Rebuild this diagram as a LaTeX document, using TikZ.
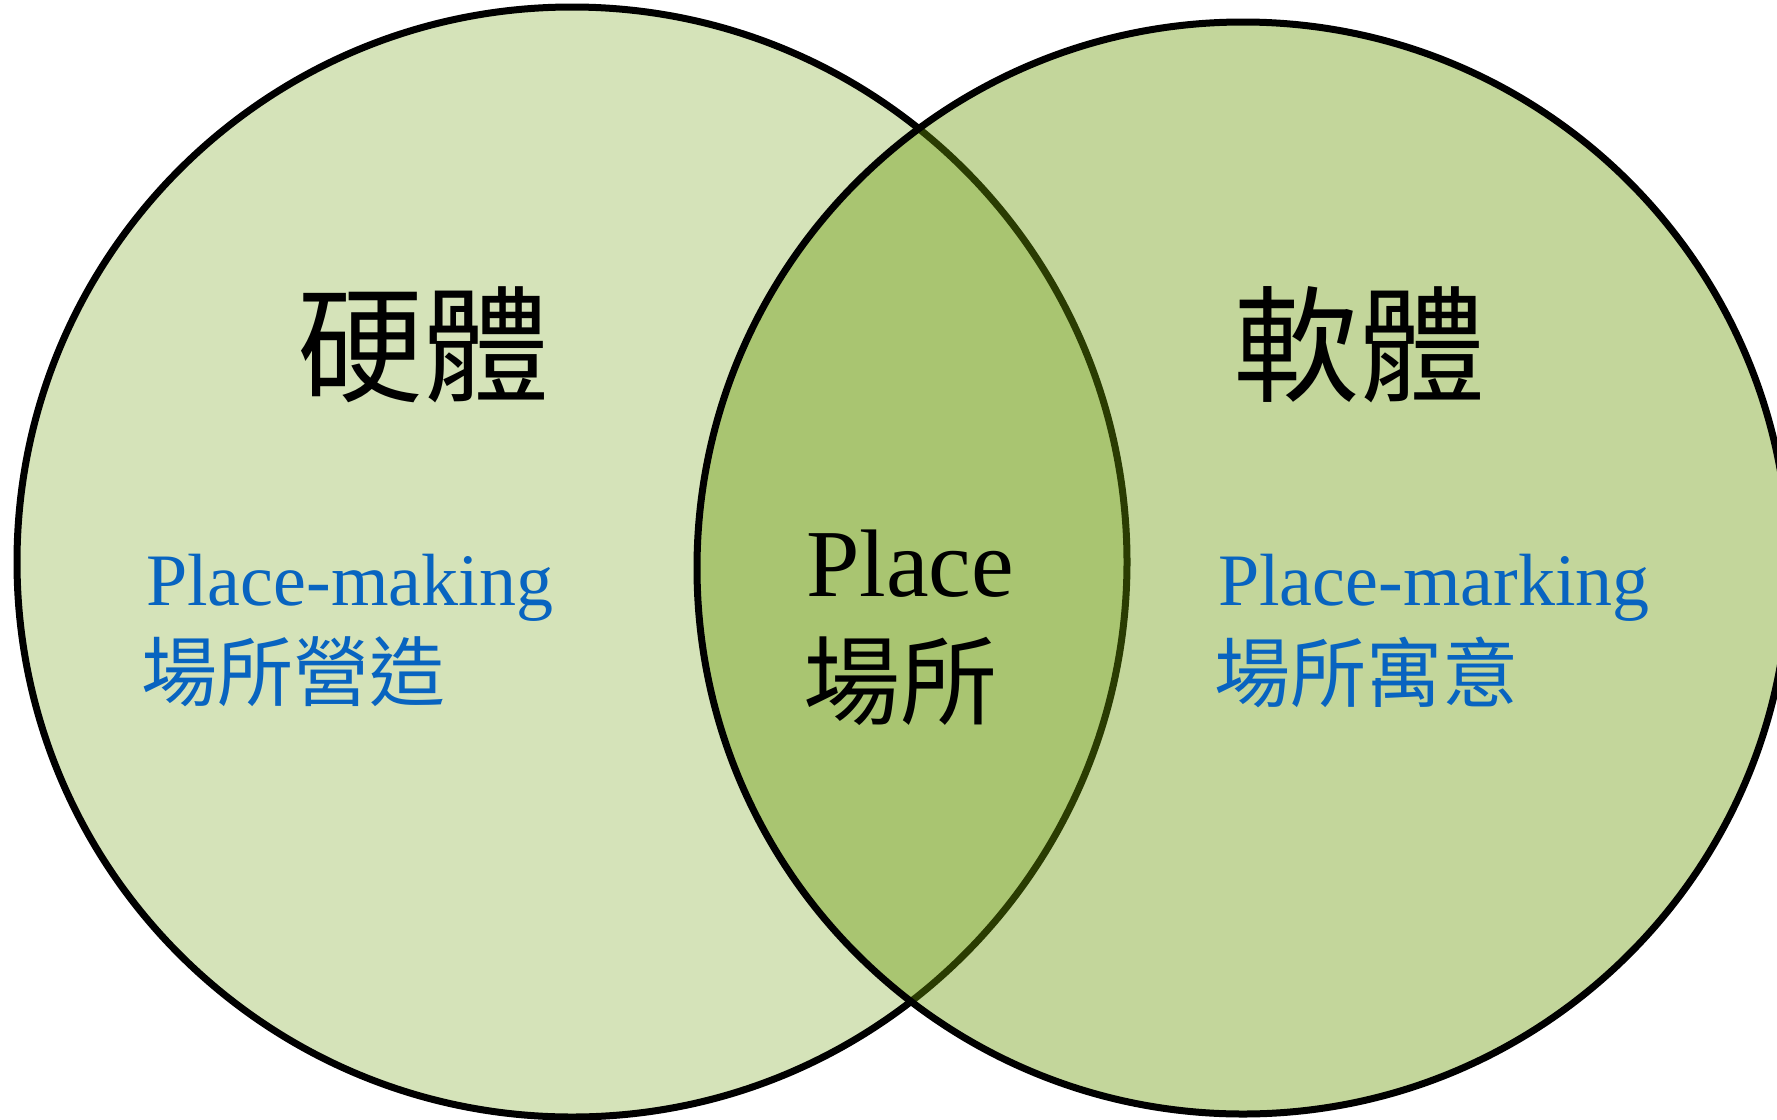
\documentclass[tikz,border=0pt]{standalone}
\usepackage{fontspec}
\setmainfont{Liberation Serif}
\newfontfamily\cjk{Noto Sans CJK TC}
\definecolor{leftfill}{RGB}{213,227,185}
\definecolor{rightfill}{RGB}{105,152,5}
\definecolor{textblue}{RGB}{8,100,192}
\tikzset{
  venn/.style={circle, draw=black, line width=7pt, inner sep=0pt, outer sep=0pt},
  bigcjk/.style={inner sep=0pt, font=\cjk\fontsize{126}{136}\selectfont, text=black},
  midcjk/.style={inner sep=0pt, font=\cjk\fontsize{97}{110}\selectfont, text=black},
  smallcjk/.style={inner sep=0pt, font=\cjk\fontsize{76}{90}\selectfont, text=textblue},
  bluelatin/.style={inner sep=0pt, font=\fontsize{74}{88}\selectfont, text=textblue},
  blacklatin/.style={inner sep=0pt, font=\fontsize{96}{110}\selectfont, text=black}
}
\begin{document}
\begin{tikzpicture}[x=1pt,y=-1pt]
\useasboundingbox (0,0) rectangle (1777,1119);
\clip (0,0) rectangle (1777,1119);
\node[venn, fill=leftfill, minimum size=1110pt] (L) at (572,562) {};
\node[venn, fill=rightfill, fill opacity=0.4, minimum size=1092pt] (R) at (1243,568) {};
\node[bigcjk] (hard) at (423,345) {硬體};
\node[bigcjk] (soft) at (1359,345) {軟體};
\node[blacklatin, anchor=base west] (place) at (806,596) {Place};
\node[midcjk] (placecjk) at (900,681) {場所};
\node[bluelatin, anchor=base west] (making) at (146,605) {Place-making};
\node[smallcjk] (makingcjk) at (293,672) {場所營造};
\node[bluelatin, anchor=base west] (marking) at (1218,605) {Place-marking};
\node[smallcjk] (markingcjk) at (1366,672) {場所寓意};
\end{tikzpicture}
\end{document}
